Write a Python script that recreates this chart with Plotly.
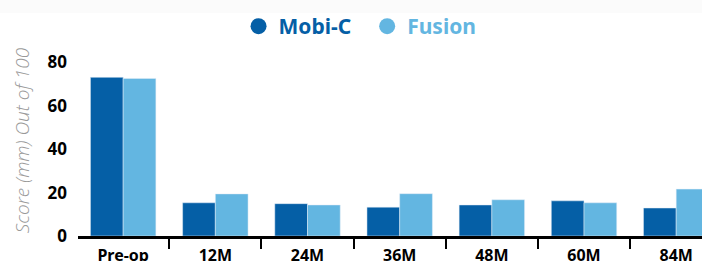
import plotly.graph_objects as go

categories = ["Pre-op", "12M", "24M", "36M", "48M", "60M", "84M"]
mobic = [73.1, 15.3, 14.9, 13.3, 14.3, 16.2, 12.9]
fusion = [72.6, 19.4, 14.3, 19.5, 16.7, 15.3, 21.6]
yticks = [0, 20, 40, 60, 80]

DARK = "#055FA6"
LIGHT = "#63B6E1"

fig = go.Figure()
fig.add_trace(go.Bar(x=categories, y=mobic, name="Mobi-C", marker_color=DARK, showlegend=False))
fig.add_trace(go.Bar(x=categories, y=fusion, name="Fusion", marker_color=LIGHT, showlegend=False))
# legend entries with circle markers
fig.add_trace(go.Scatter(x=[None], y=[None], mode="markers",
                         name=f"<span style='color:{DARK}'>Mobi-C</span>&nbsp;&nbsp;",
                         marker=dict(color=DARK, size=19, symbol="circle")))
fig.add_trace(go.Scatter(x=[None], y=[None], mode="markers",
                         name=f"<span style='color:{LIGHT}'>Fusion</span>",
                         marker=dict(color=LIGHT, size=19, symbol="circle")))

fig.update_layout(
    width=702, height=261,
    margin=dict(l=78, r=0, t=45, b=25, autoexpand=False),
    paper_bgcolor="white", plot_bgcolor="white",
    barmode="group", bargap=0.29, bargroupgap=0,
    font=dict(family="Noto Sans", color="black"),
    legend=dict(orientation="h", x=0.452, xanchor="center", y=0.977, yanchor="top",
                yref="container", font=dict(size=21, family="Noto Sans", weight="bold"),
                itemwidth=30, traceorder="normal", bgcolor="rgba(0,0,0,0)"),
    showlegend=True,
    shapes=[dict(type="rect", xref="paper", yref="paper", x0=-0.13, x1=1.01,
                 y0=1.1675, y1=1.25, fillcolor="#fbfbfb", line=dict(width=0), layer="below")],
)

fig.update_xaxes(
    range=[-0.49, 6.28], showline=True, linecolor="black", linewidth=2.5,
    ticks="outside", tickson="boundaries", ticklen=10, tickwidth=2, tickcolor="black",
    tickfont=dict(size=16, family="Noto Sans", weight="bold", color="black"),
    showgrid=False, zeroline=False, automargin=False, ticklabelstandoff=3,
)
fig.update_yaxes(
    range=[0, 88], tickvals=yticks, showline=False, showgrid=False, zeroline=False,
    ticks="", ticklabelstandoff=10, automargin=False,
    tickfont=dict(size=17, family="Noto Sans", weight="bold", color="black"),
    title=dict(text="Score (mm) Out of 100", standoff=12,
               font=dict(size=19, family="Open Sans", style="italic", weight=300, color="#999999")),
)

fig.write_html("out.html", config={"displayModeBar": False},
               post_script="document.body.style.margin='0';")
